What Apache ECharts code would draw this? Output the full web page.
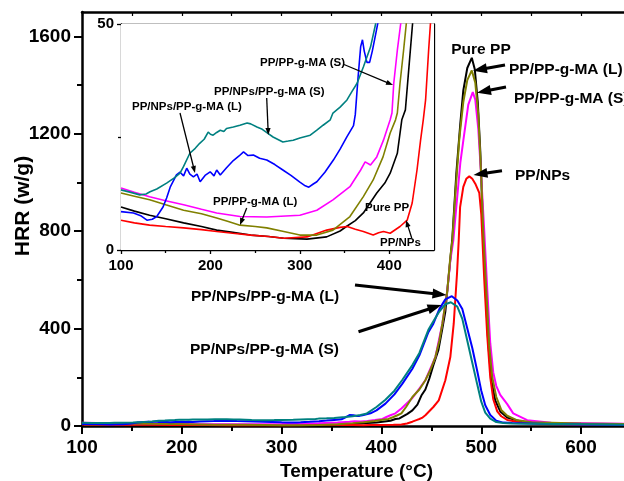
<!DOCTYPE html>
<html>
<head>
<meta charset="utf-8">
<script src="https://cdn.jsdelivr.net/npm/echarts@6/dist/echarts.min.js"></script>
<style>
  html, body { margin: 0; padding: 0; background: #fff; }
  #chart { width: 624px; height: 481px; }
</style>
</head>
<body>
<div id="chart"></div>
<script>
// HRR curves, [temperature (°C), HRR (w/g)]
const purePP = [[100,9.5],[115,8.6],[132,7.7],[150,6.9],[170,6.0],[190,5.2],[207,4.4],[225,3.9],[245,3.3],[265,3.0],[282,2.6],[308,2.4],[330,2.9],[345,4.2],[352,5.2],[362,6.5],[371,8.2],[386,12.6],[395,14.8],[401,17],[409,21.4],[414,28.8],[418,31],[422,40.5],[426,50],[431,64],[436,88],[440,125],[444,150],[448,195],[452,250],[457,311],[461,400],[464,470],[467,600],[471,770],[475,1036],[479,1242],[482,1378],[486,1470],[490.5,1512],[493.5,1465],[496.5,1330],[499,1130],[501.5,850],[504,580],[507,340],[510,190],[514,105],[519,60],[526,35],[540,18],[560,12],[600,8],[650,6]];
const ppNPs = [[100,6.6],[115,6.0],[132,5.5],[150,5.2],[170,4.9],[190,4.5],[207,4.1],[225,3.7],[245,3.3],[265,3.0],[282,2.6],[308,2.9],[330,4.4],[345,5.0],[353,5.2],[362,4.6],[371,4.1],[382,3.3],[388,3.8],[393.5,4.1],[401,3.7],[412,5.2],[420,6.6],[425.6,10.4],[431,17.7],[435,24.3],[438,28.8],[440.6,33.2],[444,44.2],[446,50],[452,78],[457.4,105],[464,188],[469,283],[472.4,420],[475.7,626],[477.4,762],[478.8,899],[482,982],[485,1015],[488,1025],[491,1015],[494,995],[498,957],[500,870],[503,600],[506,370],[509,200],[512,110],[516,60],[520,40],[526,25],[540,14],[560,9],[600,6],[650,5]];
const ppMaS = [[100,13.7],[115,12.8],[132,11.8],[150,10.9],[170,10.0],[190,9.0],[207,8.2],[233,7.4],[263,7.3],[300,7.7],[319,8.8],[337,11.1],[356,14.0],[368,17.7],[373,19.5],[379,18.8],[386,20.6],[393.5,24.3],[401,28.8],[403,30.3],[405,36.9],[409,44.2],[414,52],[420,72],[431,115],[444,188],[454,283],[461,420],[466,557],[469,680],[472,762],[475,900],[479,1080],[482,1172],[487,1320],[491.5,1371],[494,1340],[497,1220],[500,1020],[503,800],[506,560],[509,340],[512,220],[515,165],[519,128],[526,90],[532,52],[546,24],[570,13],[650,9]];
const ppMaL = [[100,12.6],[115,11.9],[132,11.1],[150,10.0],[170,8.8],[190,8.0],[207,7.1],[220,6.3],[233,5.5],[250,5.2],[263,4.9],[282,4.1],[300,3.3],[319,3.3],[337,4.4],[356,7.4],[371,11.8],[382,15.5],[393,20.6],[401,25.9],[407,28.8],[409,30.3],[412,36.9],[416,44.2],[420,52],[425,80],[431,119],[438,150],[444,188],[449,230],[454,283],[458,350],[461,420],[466,557],[469,694],[471,762],[474,950],[478,1180],[482,1330],[486,1420],[490.5,1460],[494,1410],[497,1280],[500,1020],[502,800],[505,560],[508,330],[511,200],[515,120],[520,66],[526,42],[535,25],[550,15],[600,10],[650,8]];
const npsMaL = [[100,8.5],[114,8.2],[122,7.6],[129,6.6],[135,6.8],[140,7.4],[147,9.5],[151,11.5],[155,13.9],[162,16.6],[166,17.2],[170,16.4],[173.5,18.1],[177,16.8],[181,16.2],[185,16.8],[188.5,15.1],[194,16.5],[199.7,17.3],[204,16.4],[207,17.7],[211,16.6],[218,18.2],[225.6,19.8],[232,20.8],[237,21.7],[242,20.9],[248,21.0],[255,20.3],[263,19.9],[272,18.9],[281,17.7],[290,16.5],[300,15.0],[306,14.2],[310,13.9],[315,14.6],[319,15.1],[328,17.2],[337.5,19.9],[345,22.3],[352.7,25.1],[360,27.5],[362,30],[365,38],[368,45],[370,46.5],[372,44],[375,41.5],[378,41.5],[381,44],[385,48],[389,52],[395,64],[404,92],[413,130],[421,174],[431,235],[438,290],[447,385],[452,420],[458,480],[464,520],[470.5,533],[476,515],[481,480],[486,400],[491,320],[496,225],[500,145],[504,85],[509,45],[515,22],[522,14],[531,12],[548,10],[565,8],[600,6],[650,4]];
const npsMaS = [[100,13.3],[110,12.8],[121,12.2],[128,12.4],[132.5,12.9],[140,13.5],[151,14.8],[160,16.0],[166,17.0],[170,18.5],[177,21.4],[183,22.5],[188,23.6],[193,24.5],[197.5,26.1],[200,25.6],[203,25.4],[207,26.0],[211,26.5],[215,26.2],[218,26.9],[225.6,27.2],[233,27.6],[241,28.1],[245,27.9],[252,27.2],[258,26.7],[263.5,25.9],[270,25.0],[281,23.9],[287,24.1],[292.6,24.3],[300,24.8],[311.6,25.4],[319,26.5],[326,27.6],[334,28.8],[337,30.3],[345,31.6],[352.7,33.2],[358,35],[364,36.9],[371,40.5],[379,44.9],[384.7,50],[395,78],[404,108],[413,145],[421,190],[431,250],[438,300],[447,395],[452,430],[458,470],[464,500],[469.5,508],[476,490],[481,440],[486,350],[491,260],[496,170],[500,100],[504,55],[509,30],[515,16],[522,12],[531,10],[550,9],[600,7],[650,5]];

const seriesNames = ['Pure PP', 'PP/NPs', 'PP/PP-g-MA (S)', 'PP/PP-g-MA (L)', 'PP/NPs/PP-g-MA (L)', 'PP/NPs/PP-g-MA (S)'];
const seriesData = [purePP, ppNPs, ppMaS, ppMaL, npsMaL, npsMaS];
const seriesColors = ['#000000', '#ff0000', '#ff00ff', '#808000', '#0000ff', '#008080'];

// tick values
const mainXTicks = [100, 200, 300, 400, 500, 600];
const mainXMinor = [150, 250, 350, 450, 550];
const mainXTop = [100, 150, 200, 250, 300, 350, 400, 450, 500, 550, 600, 650];
const mainYTicks = [0, 400, 800, 1200, 1600];
const mainYMinor = [200, 600, 1000, 1400];
const insetXTicks = [100, 200, 300, 400];
const insetXMinor = [150, 250, 350];
const insetXTop = [100, 150, 200, 250, 300, 350, 400];
const insetYTicks = [0, 50];
const insetYMinor = [25];

const FONT = '"Liberation Sans", Arial, Helvetica, sans-serif';

function tickAxis(o) {
  return {
    type: 'value',
    gridIndex: o.grid,
    position: o.position,
    min: o.min,
    max: o.max,
    axisLine: { show: !!o.line, onZero: false, lineStyle: { color: '#000', width: o.lw || 2 } },
    axisTick: {
      show: true, inside: !!o.inside, length: o.len, customValues: o.ticks,
      lineStyle: { color: '#000', width: o.tw || 2 }
    },
    axisLabel: o.labels ? {
      show: true, customValues: o.labels, margin: o.margin, fontSize: o.fontSize,
      fontWeight: 'bold', color: '#000', fontFamily: FONT,
      formatter: (v) => String(v)
    } : { show: false },
    splitLine: { show: false },
    name: o.name,
    nameLocation: 'middle',
    nameGap: o.nameGap,
    nameTextStyle: { fontSize: 19, fontWeight: 'bold', color: '#000', fontFamily: FONT }
  };
}

function arrow(x1, y1, x2, y2, w, hl, hw) {
  const a = Math.atan2(y2 - y1, x2 - x1);
  const bx = x2 - hl * Math.cos(a), by = y2 - hl * Math.sin(a);
  const px = -Math.sin(a) * hw, py = Math.cos(a) * hw;
  return [
    { type: 'line', z: 100, shape: { x1: x1, y1: y1, x2: bx + hl * 0.3 * Math.cos(a), y2: by + hl * 0.3 * Math.sin(a) },
      style: { stroke: '#000', lineWidth: w } },
    { type: 'polygon', z: 100, shape: { points: [[x2, y2], [bx + px, by + py], [bx - px, by - py]] },
      style: { fill: '#000' } }
  ];
}

function label(text, x, y, size, align) {
  return {
    type: 'text', z: 100, x: x, y: y,
    style: { text: text, fill: '#000', font: 'bold ' + size + 'px ' + FONT, align: align || 'left', verticalAlign: 'middle' }
  };
}

const xAxes = [
  tickAxis({ grid: 0, position: 'bottom', min: 100, max: 650, line: true, lw: 2.5, len: 8, ticks: mainXTicks,
    labels: mainXTicks, margin: 12, fontSize: 19, name: 'Temperature (°C)', nameGap: 35 }),
  tickAxis({ grid: 0, position: 'bottom', min: 100, max: 650, line: false, len: 5, ticks: mainXMinor }),
  tickAxis({ grid: 0, position: 'top', min: 100, max: 650, line: true, lw: 2.5, inside: true, len: 4, tw: 1.2, ticks: mainXTop }),
  tickAxis({ grid: 1, position: 'bottom', min: 100, max: 450, line: true, lw: 1.3, len: 4, tw: 1.3, ticks: insetXTicks,
    labels: insetXTicks, margin: 8, fontSize: 15 }),
  tickAxis({ grid: 1, position: 'bottom', min: 100, max: 450, line: false, len: 3, tw: 1.3, ticks: insetXMinor }),
  tickAxis({ grid: 1, position: 'top', min: 100, max: 450, line: true, lw: 1.3, inside: true, len: 3, tw: 1, ticks: insetXTop })
];

const yAxes = [
  tickAxis({ grid: 0, position: 'left', min: 0, max: 1700, line: true, lw: 2.5, len: 8, ticks: mainYTicks,
    labels: mainYTicks, margin: 11, fontSize: 19 }),
  tickAxis({ grid: 0, position: 'left', min: 0, max: 1700, line: false, len: 5, ticks: mainYMinor }),
  tickAxis({ grid: 1, position: 'left', min: 0, max: 50, line: true, lw: 1.3, len: 4, tw: 1.3, ticks: insetYTicks,
    labels: insetYTicks, margin: 7, fontSize: 15 }),
  tickAxis({ grid: 1, position: 'left', min: 0, max: 50, line: false, len: 3, tw: 1.3, ticks: insetYMinor }),
  tickAxis({ grid: 1, position: 'right', min: 0, max: 50, line: true, lw: 1.3, inside: true, len: 3, tw: 1, ticks: insetYMinor })
];

const series = [];
seriesData.forEach((data, i) => {
  series.push({
    name: seriesNames[i], type: 'line', xAxisIndex: 0, yAxisIndex: 0, data: data,
    showSymbol: false, symbol: 'none', smooth: false, clip: true,
    lineStyle: { color: seriesColors[i], width: 2 }, z: 2
  });
  series.push({
    name: seriesNames[i] + ' inset', type: 'line', xAxisIndex: 3, yAxisIndex: 2, data: data,
    showSymbol: false, symbol: 'none', smooth: false, clip: true,
    lineStyle: { color: seriesColors[i], width: 1.6 }, z: 5
  });
});

const graphics = [
  {
    type: 'text', z: 100, x: 23, y: 206, rotation: Math.PI / 2,
    style: { text: 'HRR (w/g)', fill: '#000', font: 'bold 21px ' + FONT, align: 'center', verticalAlign: 'middle' }
  },
  // main annotations
  label('Pure PP', 481, 50, 15.5, 'center'),
  label('PP/PP-g-MA (L)', 509, 70, 15.5),
  label('PP/PP-g-MA (S)', 514, 99, 15.5),
  label('PP/NPs', 515, 176, 15.5),
  label('PP/NPs/PP-g-MA (L)', 191, 297, 15.5),
  label('PP/NPs/PP-g-MA (S)', 190, 350, 15.5),
  ...arrow(505, 65, 473, 70.7, 3, 14, 5),
  ...arrow(506, 87, 477, 92.7, 3, 14, 5),
  ...arrow(502, 170.7, 473.5, 175, 3, 14, 5),
  ...arrow(355, 285, 446.5, 295, 3, 14, 5),
  ...arrow(358.5, 331.7, 441.5, 305, 3, 14, 5),
  // inset annotations
  label('PP/PP-g-MA (S)', 260, 63, 11.5),
  label('PP/NPs/PP-g-MA (S)', 214, 92, 11.5),
  label('PP/NPs/PP-g-MA (L)', 132, 107, 11.5),
  label('PP/PP-g-MA (L)', 213, 202, 11.5),
  label('Pure PP', 365, 208, 11.5),
  label('PP/NPs', 380, 243, 11.5),
  ...arrow(344, 64.5, 393, 85, 1.3, 7, 2.6),
  ...arrow(266.7, 98, 268.3, 135, 1.3, 7, 2.6),
  ...arrow(180, 113, 195, 173, 1.3, 7, 2.6),
  ...arrow(246.7, 208, 240, 225, 1.3, 7, 2.6),
  ...arrow(411.7, 238, 406, 220, 1.3, 7, 2.6)
];

const chart = echarts.init(document.getElementById('chart'), null, { renderer: 'canvas' });
chart.setOption({
  animation: false,
  backgroundColor: '#ffffff',
  grid: [
    { left: 82, top: 12, width: 549, height: 414, containLabel: false, outerBoundsMode: 'none' },
    { left: 121, top: 24, width: 313, height: 226, containLabel: false, outerBoundsMode: 'none', show: true,
      backgroundColor: '#ffffff', borderWidth: 0, z: 3 }
  ],
  xAxis: xAxes,
  yAxis: yAxes,
  series: series,
  graphic: { elements: graphics }
});
</script>
</body>
</html>
